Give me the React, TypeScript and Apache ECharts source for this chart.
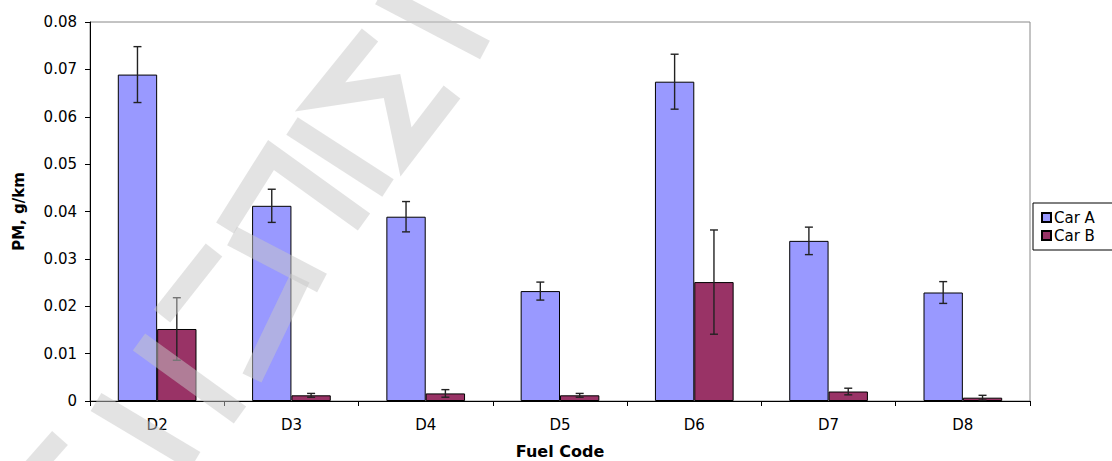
import React, { useEffect, useRef } from "react";
import * as echarts from "echarts";

const categories = ["D2", "D3", "D4", "D5", "D6", "D7", "D8"];
const carA = [0.0689, 0.0412, 0.0389, 0.0232, 0.0674, 0.0338, 0.0229];
const carAErr = [0.0059, 0.0035, 0.0032, 0.0019, 0.0058, 0.0029, 0.0023];
const carB = [0.0152, 0.0012, 0.0016, 0.0012, 0.0251, 0.002, 0.0007];
const carBErr = [0.0066, 0.0004, 0.0008, 0.0004, 0.011, 0.0007, 0.0005];
const seriesNames = ["Car A", "Car B"];

const FONT = '"DejaVu Sans", Verdana, sans-serif';
const BAR_FRACTION = 0.293;

// watermark strokes (decoration)
const watermark: number[][][] = [
  [[380, -5], [485, 50]],
  [[370, 35], [320, 97], [392, 86], [406, 152], [452, 92]],
  [[292, 126], [388, 188]],
  [[225, 228], [271, 155], [364, 222]],
  [[232, 236], [322, 283]],
  [[300, 278], [252, 378]],
  [[214, 250], [162, 316]],
  [[139, 342], [240, 415]],
  [[96, 402], [195, 461]],
  [[30, 472], [60, 438]],
];

function errorSeries(name: string, values: number[], errs: number[], side: number) {
  return {
    type: "custom",
    name: name + " err",
    z: 5,
    silent: true,
    data: values.map((v, i) => [i, v - errs[i], v + errs[i]]),
    encode: { x: 0, y: [1, 2] },
    renderItem: (params: any, api: any) => {
      const idx = api.value(0);
      const lo = api.coord([idx, api.value(1)]);
      const hi = api.coord([idx, api.value(2)]);
      const band = api.size([1, 0])[0];
      const x = lo[0] + side * band * BAR_FRACTION * 0.5;
      const cap = 4;
      const style = { stroke: "#222", lineWidth: 1.4 };
      return {
        type: "group",
        children: [
          { type: "line", shape: { x1: x, y1: lo[1], x2: x, y2: hi[1] }, style },
          { type: "line", shape: { x1: x - cap, y1: lo[1], x2: x + cap, y2: lo[1] }, style },
          { type: "line", shape: { x1: x - cap, y1: hi[1], x2: x + cap, y2: hi[1] }, style },
        ],
      };
    },
  };
}

export default function App() {
  const ref = useRef<HTMLDivElement>(null);
  useEffect(() => {
    if (!ref.current) return;
    const chart = echarts.init(ref.current, undefined, { renderer: "svg" });
    chart.setOption({
      animation: false,
      backgroundColor: "#fff",
      textStyle: { fontFamily: FONT },
      grid: {
        left: 90,
        right: 82,
        top: 22,
        bottom: 60,
        outerBoundsMode: "none",
        containLabel: false,
        show: true,
        borderColor: "#888",
        borderWidth: 1,
        backgroundColor: "transparent",
      },
      legend: {
        data: seriesNames,
        orient: "vertical",
        left: 1033,
        top: 203,
        padding: [7, 40, 7, 8],
        itemGap: 3,
        itemWidth: 9,
        itemHeight: 9,
        borderColor: "#000",
        borderWidth: 1,
        icon: "rect",
        textStyle: { fontSize: 15, color: "#000", fontFamily: FONT, padding: [0, 0, 0, -2], lineHeight: 15 },
      },
      xAxis: {
        type: "category",
        data: categories,
        name: "Fuel Code",
        nameLocation: "middle",
        nameGap: 42,
        nameTextStyle: { fontSize: 16, fontWeight: "bold", color: "#000", fontFamily: FONT },
        axisLine: { show: true, lineStyle: { color: "#000", width: 1 } },
        axisTick: { show: true, length: 5, alignWithLabel: false, lineStyle: { color: "#000" } },
        axisLabel: { fontSize: 15, color: "#000", margin: 16, fontFamily: FONT },
        splitLine: { show: false },
      },
      yAxis: {
        type: "value",
        min: 0,
        max: 0.08,
        interval: 0.01,
        name: "PM, g/km",
        nameLocation: "middle",
        nameGap: 64,
        nameTextStyle: { fontSize: 15, fontWeight: "bold", color: "#000", fontFamily: FONT },
        axisLine: { show: true, lineStyle: { color: "#000", width: 1 } },
        axisTick: { show: true, length: 5, inside: false, lineStyle: { color: "#000" } },
        axisLabel: {
          fontSize: 15,
          color: "#000",
          margin: 13,
          fontFamily: FONT,
          formatter: (v: number) => (v === 0 ? "0" : v.toFixed(2)),
        },
        splitLine: { show: false },
      },
      series: [
        {
          type: "bar",
          name: seriesNames[0],
          data: carA,
          barWidth: BAR_FRACTION * 100 + "%",
          barGap: "0%",
          itemStyle: { color: "#9999FF", borderColor: "#000", borderWidth: 1 },
        },
        {
          type: "bar",
          name: seriesNames[1],
          data: carB,
          barWidth: BAR_FRACTION * 100 + "%",
          barGap: "0%",
          itemStyle: { color: "#993366", borderColor: "#000", borderWidth: 1 },
        },
        errorSeries(seriesNames[0], carA, carAErr, -1),
        errorSeries(seriesNames[1], carB, carBErr, 1),
      ],
      graphic: watermark.map((pts) => ({
        type: "polyline",
        z: 100,
        silent: true,
        shape: { points: pts },
        style: { stroke: "rgba(200,200,200,0.5)", lineWidth: 21, fill: null, lineJoin: "miter", lineCap: "butt" },
      })),
    });
    return () => chart.dispose();
  }, []);
  return (
    <div
      ref={ref}
      style={{ position: "fixed", left: 0, top: 0, width: 1112, height: 461 }}
    />
  );
}
